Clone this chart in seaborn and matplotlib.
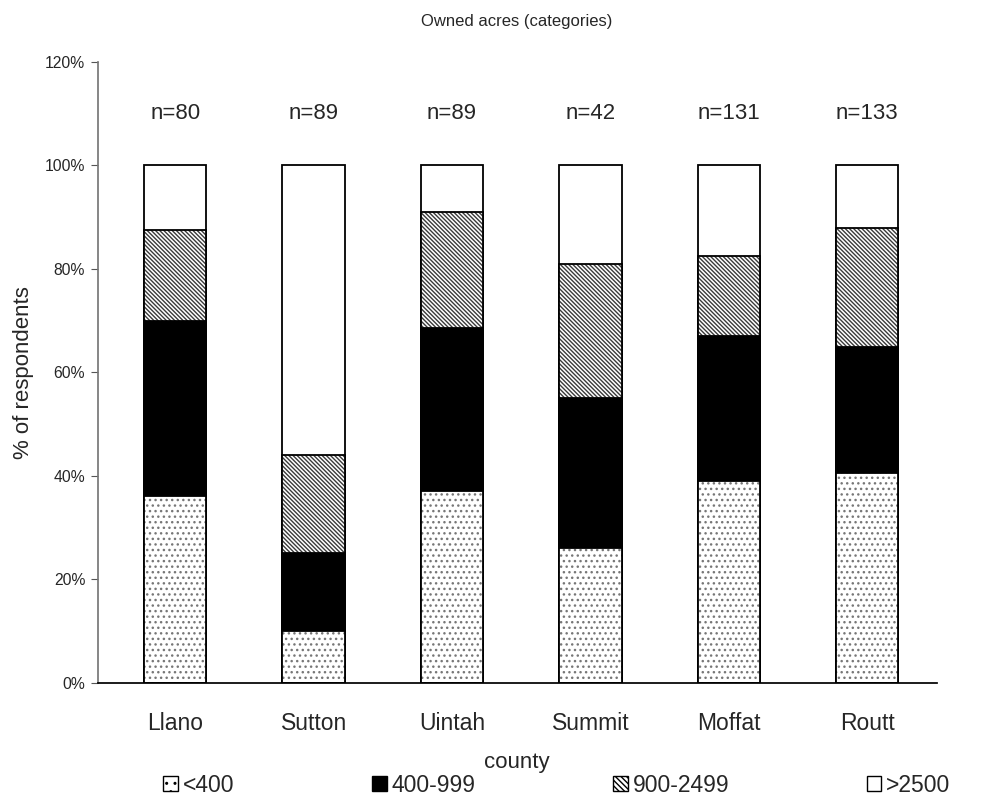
import numpy as np
import pandas as pd
import seaborn as sns
import matplotlib.pyplot as plt
from matplotlib.patches import Patch

# data (percent of respondents)
counties = ['Llano', 'Sutton', 'Uintah', 'Summit', 'Moffat', 'Routt']
n_labels = ['n=80', 'n=89', 'n=89', 'n=42', 'n=131', 'n=133']
categories = ['<400', '400-999', '900-2499', '>2500']
lt400 = [36, 10, 37, 26, 39, 40.5]
a400_999 = [34, 15, 31.5, 29, 28, 24.5]
a900_2499 = [17.5, 19, 22.5, 26, 15.5, 23]
gt2500 = [12.5, 56, 9, 19, 17.5, 12]

sns.set_theme(style='white')
plt.rcParams['font.family'] = ['Liberation Sans', 'DejaVu Sans']
plt.rcParams['hatch.linewidth'] = 1.0

BS = chr(92)  # backslash, for the diagonal hatch
diag = BS * 8

df = pd.DataFrame({'county': counties, '<400': lt400, '400-999': a400_999,
                   '900-2499': a900_2499, '>2500': gt2500})
# cumulative tops, drawn from the tallest down so each layer overlays the next
cum = df[categories].cumsum(axis=1)

fig, ax = plt.subplots(figsize=(10.07, 8.06), dpi=100)
fig.subplots_adjust(left=0.097, right=0.93, top=0.923, bottom=0.153)

styles = {
    '>2500': dict(color='white', hatch=None, hcol='black'),
    '900-2499': dict(color='white', hatch=diag, hcol='#3a3a3a'),
    '400-999': dict(color='black', hatch=None, hcol='black'),
    '<400': dict(color='white', hatch='...', hcol='#777777'),
}

for cat in categories[::-1]:
    st = styles[cat]
    tmp = pd.DataFrame({'county': counties, 'val': cum[cat]})
    sns.barplot(data=tmp, x='county', y='val', color=st['color'], saturation=1,
                width=0.45, ax=ax, edgecolor=st['hcol'], linewidth=0,
                hatch=st['hatch'])
    # black outline on top of the fill
    sns.barplot(data=tmp, x='county', y='val', fill=False, width=0.45, ax=ax,
                edgecolor='black', linewidth=1.3)

for i, lab in enumerate(n_labels):
    ax.text(i, 110, lab, ha='center', va='center', fontsize=16)

ax.set_ylim(0, 120)
ax.set_xlim(-0.56, 5.5)
ax.set_yticks(np.arange(0, 121, 20))
ax.set_yticklabels([f'{v}%' for v in range(0, 121, 20)], fontsize=11.3)
ax.tick_params(axis='x', labelsize=16.5, length=0, pad=21)
ax.tick_params(axis='y', left=True, length=5, width=0.8, color='#555555', pad=4)
sns.despine(ax=ax, top=True, right=True)
ax.spines['left'].set_color('#777777')
ax.spines['bottom'].set_color('black')
ax.set_xlabel('county', fontsize=16, labelpad=12)
ax.set_ylabel('% of respondents', fontsize=16, labelpad=8)
ax.set_title('Owned acres (categories)', fontsize=12, pad=26, x=0.5)

handles = [
    Patch(facecolor='white', edgecolor='black', hatch='..', label='<400'),
    Patch(facecolor='black', edgecolor='black', label='400-999'),
    Patch(facecolor='white', edgecolor='black', hatch=BS * 6, label='900-2499'),
    Patch(facecolor='white', edgecolor='black', label='>2500'),
]
fig.legend(handles=handles, loc='lower center', ncol=4, frameon=False,
           fontsize=16.5, bbox_to_anchor=(0.553, -0.014), columnspacing=6.0,
           handlelength=0.65, handleheight=0.65, handletextpad=0.2)

fig.savefig('out.png', dpi=100)
